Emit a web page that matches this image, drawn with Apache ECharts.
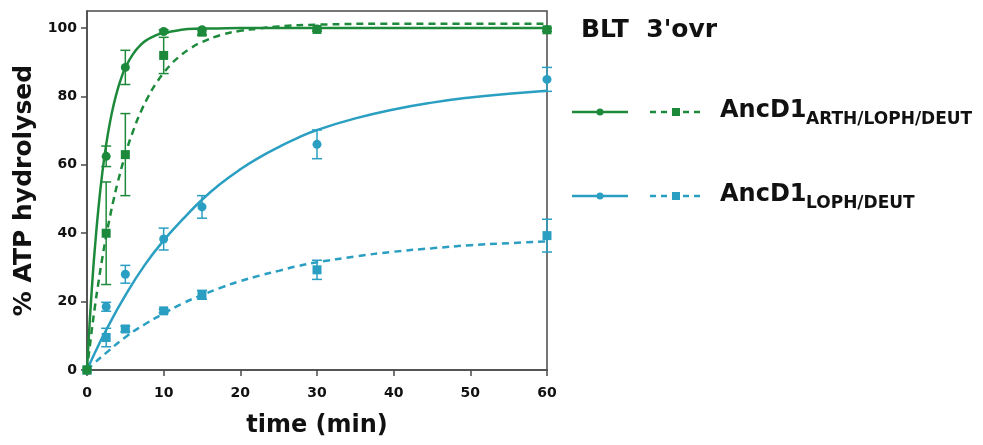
<!DOCTYPE html>
<html>
<head>
<meta charset="utf-8">
<script src="https://cdn.jsdelivr.net/npm/echarts@6/dist/echarts.min.js"></script>
<style>
  html, body { margin: 0; padding: 0; background: #fff; }
  #chart { width: 983px; height: 445px; }
</style>
</head>
<body>
<div id="chart"></div>
<script>
// measured time points (min)
var times = [0, 2.5, 5, 10, 15, 30, 60];

// AncD1 ARTH/LOPH/DEUT
var greenCircle = [0, 62.5, 88.5, 99, 99.5, 99.7, 99.5];
var greenCircleErr = [0, 3, 5, 0.5, 0, 0, 0];
var greenSquare = [0, 40, 63, 92, 98.8, 99.6, 99.5];
var greenSquareErr = [0, 15, 12, 5.3, 0.8, 0.5, 0.5];

// AncD1 LOPH/DEUT
var blueCircle = [0, 18.5, 28, 38.3, 47.7, 66, 85];
var blueCircleErr = [0, 1.3, 2.6, 3.2, 3.3, 4.2, 3.5];
var blueSquare = [0, 9.5, 12, 17.3, 22, 29.3, 39.3];
var blueSquareErr = [0, 2.7, 0.8, 0.5, 1.3, 2.8, 4.8];

// fitted curves
var fitTimeGreenSolid = [0, 0.25, 0.5, 0.75, 1, 1.5, 2, 2.5, 3, 3.5, 4, 4.5, 5, 6, 7, 8, 9, 10, 12, 14, 17, 20, 30, 45, 60];
var fitGreenSolid = [0, 10.2, 19.3, 27.6, 34.9, 47.5, 57.7, 65.9, 72.5, 77.8, 82.1, 85.6, 88.4, 92.4, 95.1, 96.8, 97.9, 98.6, 99.4, 99.8, 99.9, 100, 100, 100, 100];

var fitTimeGreenDash = [0, 0.5, 1, 1.5, 2, 2.5, 3, 3.5, 4, 5, 6, 7, 8, 9, 10, 11, 12, 13.5, 15, 17.5, 20, 22.5, 25, 30, 40, 60];
var fitGreenDash = [0, 9.4, 18, 25.7, 32.8, 39.2, 44.9, 50.1, 54.8, 63, 69.8, 75.4, 80, 83.8, 86.9, 89.5, 91.6, 94.1, 95.9, 98, 99.2, 99.9, 100.5, 101, 101.3, 101.3];

var fitTimeBlue = [0, 1, 2.5, 5, 7.5, 10, 12.5, 15, 17.5, 20, 22.5, 25, 27.5, 30, 35, 40, 45, 50, 55, 60];
var fitBlueSolid = [0, 4.9, 11.7, 21.8, 30.6, 37.9, 44.1, 49.8, 54.6, 58.7, 62.2, 65.2, 67.9, 70.2, 73.6, 76.2, 78.2, 79.7, 80.8, 81.7];
var fitBlueDash = [0, 2.1, 5.0, 9.6, 13.3, 16.5, 19.5, 21.9, 24.1, 26, 27.6, 29, 30.4, 31.5, 33.2, 34.6, 35.6, 36.5, 37.1, 37.6];

var yTicks = [0, 20, 40, 60, 80, 100];

var GREEN = '#1d8a3b';
var BLUE = '#2a9fc2';
var FONT = 'DejaVu Sans';

function pairs(xs, ys) {
  return xs.map(function (x, i) { return [x, ys[i]]; });
}
function errPairs(xs, ys, es) {
  return xs.map(function (x, i) { return [x, ys[i], es[i]]; });
}

function errorBars(name, data, color) {
  return {
    name: name,
    type: 'custom',
    data: data,
    z: 3,
    renderItem: function (params, api) {
      var x = api.value(0), y = api.value(1), e = api.value(2);
      if (!e) return null;
      var lo = api.coord([x, y - e]);
      var hi = api.coord([x, y + e]);
      var w = 5;
      var st = { stroke: color, lineWidth: 1.5 };
      return {
        type: 'group',
        children: [
          { type: 'line', shape: { x1: lo[0], y1: lo[1], x2: hi[0], y2: hi[1] }, style: st },
          { type: 'line', shape: { x1: lo[0] - w, y1: lo[1], x2: lo[0] + w, y2: lo[1] }, style: st },
          { type: 'line', shape: { x1: hi[0] - w, y1: hi[1], x2: hi[0] + w, y2: hi[1] }, style: st }
        ]
      };
    }
  };
}

function fitLine(xs, ys, color, dashed) {
  return {
    type: 'line',
    data: pairs(xs, ys),
    smooth: 0.5,
    showSymbol: false,
    silent: true,
    z: 2,
    lineStyle: { color: color, width: 2.5, type: dashed ? [7, 5] : 'solid' }
  };
}

function marks(ys, color, symbol) {
  return {
    type: 'scatter',
    data: pairs(times, ys),
    symbol: symbol,
    symbolSize: 9,
    z: 4,
    itemStyle: { color: color, opacity: 1 }
  };
}

var chart = echarts.init(document.getElementById('chart'));

var legendY1 = 112, legendY2 = 196;
function legendRow(y, color) {
  return [
    { type: 'line', shape: { x1: 572, y1: y, x2: 628, y2: y }, style: { stroke: color, lineWidth: 2.5 } },
    { type: 'circle', shape: { cx: 600, cy: y, r: 3.5 }, style: { fill: color } },
    { type: 'line', shape: { x1: 650, y1: y, x2: 703, y2: y }, style: { stroke: color, lineWidth: 2.5, lineDash: [6, 5] } },
    { type: 'rect', shape: { x: 672, y: y - 4, width: 8, height: 8 }, style: { fill: color } }
  ];
}

chart.setOption({
  backgroundColor: '#ffffff',
  animation: false,
  grid: {
    left: 87, top: 11, right: 436, bottom: 75,
    show: true, borderColor: '#4a4a4a', borderWidth: 1.5, backgroundColor: 'transparent'
  },
  xAxis: {
    type: 'value',
    min: 0, max: 60, interval: 10,
    name: 'time (min)',
    nameLocation: 'middle',
    nameGap: 44,
    nameTextStyle: { fontFamily: FONT, fontWeight: 'bold', fontSize: 24, color: '#111' },
    axisLine: { show: true, lineStyle: { color: '#4a4a4a', width: 1.5 } },
    axisTick: { show: true, length: 6, lineStyle: { color: '#4a4a4a', width: 1.5 } },
    axisLabel: { margin: 16, fontFamily: FONT, fontWeight: 'bold', fontSize: 14, color: '#111' },
    splitLine: { show: false }
  },
  yAxis: {
    type: 'value',
    min: 0, max: 105,
    name: '% ATP hydrolysed',
    nameLocation: 'middle',
    nameGap: 50,
    nameTextStyle: { fontFamily: FONT, fontWeight: 'bold', fontSize: 25, color: '#111' },
    axisLine: { show: true, lineStyle: { color: '#4a4a4a', width: 1.5 } },
    axisTick: { show: true, length: 6, customValues: yTicks, lineStyle: { color: '#4a4a4a', width: 1.5 } },
    axisLabel: { margin: 10, customValues: yTicks, fontFamily: FONT, fontWeight: 'bold', fontSize: 14, color: '#111' },
    splitLine: { show: false }
  },
  series: [
    fitLine(fitTimeBlue, fitBlueSolid, BLUE, false),
    fitLine(fitTimeBlue, fitBlueDash, BLUE, true),
    errorBars('blueCircleErr', errPairs(times, blueCircle, blueCircleErr), BLUE),
    errorBars('blueSquareErr', errPairs(times, blueSquare, blueSquareErr), BLUE),
    marks(blueCircle, BLUE, 'circle'),
    marks(blueSquare, BLUE, 'rect'),
    fitLine(fitTimeGreenSolid, fitGreenSolid, GREEN, false),
    fitLine(fitTimeGreenDash, fitGreenDash, GREEN, true),
    errorBars('greenCircleErr', errPairs(times, greenCircle, greenCircleErr), GREEN),
    errorBars('greenSquareErr', errPairs(times, greenSquare, greenSquareErr), GREEN),
    marks(greenCircle, GREEN, 'circle'),
    marks(greenSquare, GREEN, 'rect')
  ],
  graphic: [
    { type: 'text', left: 581, top: 18, style: { text: "BLT  3'ovr", fontFamily: FONT, fontWeight: 'bold', fontSize: 25, fill: '#111' } }
  ].concat(legendRow(legendY1, GREEN), legendRow(legendY2, BLUE), [
    { type: 'text', x: 720, y: 111, style: { text: 'AncD1', fontFamily: FONT, fontWeight: 'bold', fontSize: 24, fill: '#111', verticalAlign: 'middle' } },
    { type: 'text', x: 806, y: 120, style: { text: 'ARTH/LOPH/DEUT', fontFamily: FONT, fontWeight: 'bold', fontSize: 17, fill: '#111', verticalAlign: 'middle' } },
    { type: 'text', x: 720, y: 195, style: { text: 'AncD1', fontFamily: FONT, fontWeight: 'bold', fontSize: 24, fill: '#111', verticalAlign: 'middle' } },
    { type: 'text', x: 806, y: 204, style: { text: 'LOPH/DEUT', fontFamily: FONT, fontWeight: 'bold', fontSize: 17, fill: '#111', verticalAlign: 'middle' } }
  ])
});
</script>
</body>
</html>
